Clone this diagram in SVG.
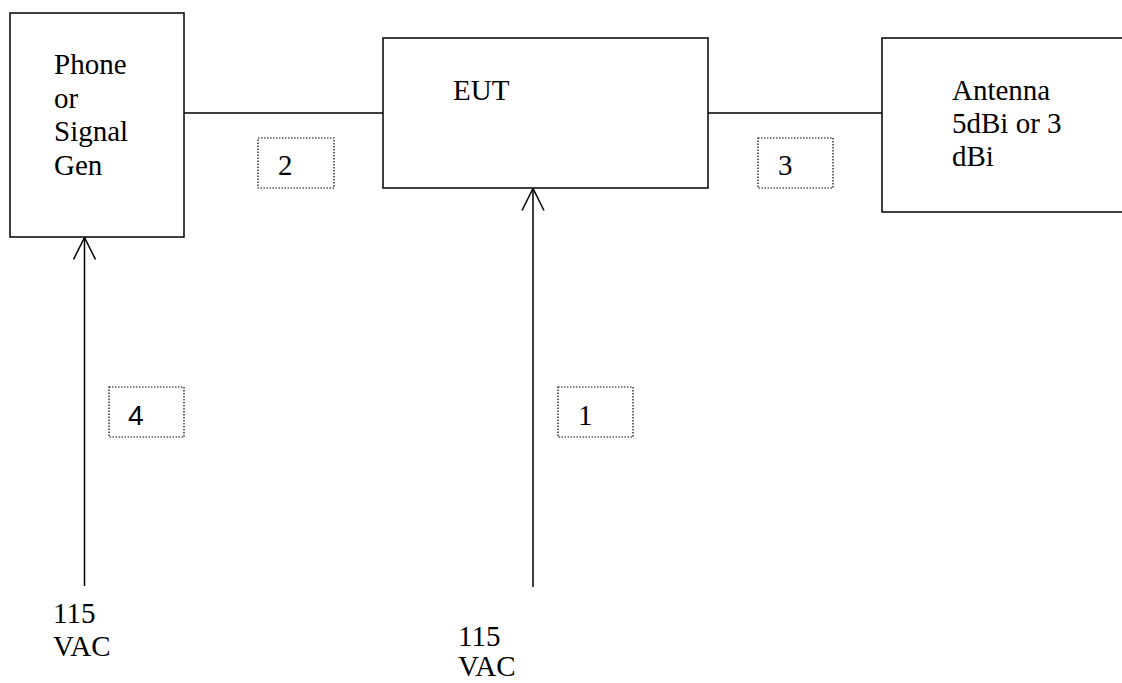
<svg xmlns="http://www.w3.org/2000/svg" width="1122" height="683" viewBox="0 0 1122 683">
<style>
.box{fill:#fff;stroke:#000;stroke-width:1.5}
.tag{fill:none;stroke:#000;stroke-width:1.2;stroke-dasharray:1.5 1.5}
.wire{stroke:#000;stroke-width:1.5;fill:none}
.t{font-family:"Liberation Serif","Times New Roman",serif;font-size:29px;fill:#000}
.s{font-family:"Liberation Sans",Arial,sans-serif;font-size:28px;fill:#000}
</style>
<defs>
<marker id="arr" viewBox="-24 -13 26 26" refX="0" refY="0" markerWidth="26" markerHeight="26" markerUnits="userSpaceOnUse" orient="auto" overflow="visible">
<path d="M-22,-11 L0,0 L-22,11" fill="none" stroke="#000" stroke-width="1.5"/>
</marker>
</defs>
<rect width="1122" height="683" fill="#fff"/>
<g id="connectors">
<line class="wire" x1="184" y1="113" x2="383" y2="113"/>
<line class="wire" x1="708" y1="113" x2="882" y2="113"/>
<line class="wire" x1="84.5" y1="586" x2="84.5" y2="237.5" marker-end="url(#arr)"/>
<line class="wire" x1="533" y1="587" x2="533" y2="188.5" marker-end="url(#arr)"/>
</g>
<g id="phone">
<rect class="box" x="10" y="13" width="174" height="224"/>
<text class="t" x="54" y="74">Phone</text>
<text class="t" x="54" y="108">or</text>
<text class="t" x="54" y="141">Signal</text>
<text class="t" x="54" y="175">Gen</text>
</g>
<g id="eut">
<rect class="box" x="383" y="38" width="325" height="150"/>
<text class="t" x="453" y="100">EUT</text>
</g>
<g id="antenna">
<rect class="box" x="882" y="38" width="260" height="174"/>
<text class="t" x="952" y="100">Antenna</text>
<text class="t" x="952" y="133">5dBi or 3</text>
<text class="t" x="952" y="166">dBi</text>
</g>
<g id="label2">
<rect class="tag" x="258" y="138" width="76" height="50"/>
<text class="t" x="278" y="175">2</text>
</g>
<g id="label3">
<rect class="tag" x="758" y="138" width="75" height="50"/>
<text class="t" x="778" y="175">3</text>
</g>
<g id="label4">
<rect class="tag" x="109" y="387" width="75" height="50"/>
<text class="s" x="128" y="425">4</text>
</g>
<g id="label1">
<rect class="tag" x="558" y="387" width="75" height="50"/>
<text class="t" x="578" y="425">1</text>
</g>
<g id="power-left">
<text class="t" x="53" y="623">115</text>
<text class="t" x="53" y="656">VAC</text>
</g>
<g id="power-right">
<text class="t" x="458" y="646">115</text>
<text class="t" x="458" y="676">VAC</text>
</g>
</svg>
